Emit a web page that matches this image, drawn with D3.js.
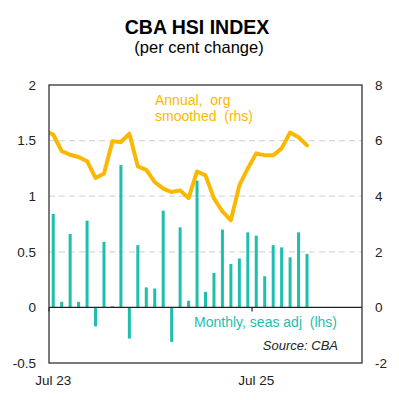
<!DOCTYPE html>
<html>
<head>
<meta charset="utf-8">
<script src="https://d3js.org/d3.v7.min.js"></script>
<style>
  body { margin: 0; background: #fff; }
  svg text { font-family: "Liberation Sans", Arial, sans-serif; }
</style>
</head>
<body>
<svg width="399" height="400"></svg>
<script>
// month labels, Jul 23 .. Jan 26
const months = ["Jul 23","Aug 23","Sep 23","Oct 23","Nov 23","Dec 23",
  "Jan 24","Feb 24","Mar 24","Apr 24","May 24","Jun 24","Jul 24","Aug 24","Sep 24","Oct 24","Nov 24","Dec 24",
  "Jan 25","Feb 25","Mar 25","Apr 25","May 25","Jun 25","Jul 25","Aug 25","Sep 25","Oct 25","Nov 25","Dec 25",
  "Jan 26"];

// monthly, seas adj (lhs)
const monthly = [0.84, 0.05, 0.66, 0.05, 0.78, -0.17, 0.59, 0.01, 1.28, -0.28,
  0.56, 0.18, 0.17, 0.87, -0.31, 0.72, 0.06, 1.14, 0.14, 0.31,
  0.70, 0.39, 0.44, 0.675, 0.645, 0.28, 0.56, 0.54, 0.45, 0.675, 0.48];

// annual, org smoothed (rhs); first value is Jun 23, partly off the left edge
const annualStart = -1;
const annual = [6.35, 6.22, 5.62, 5.49, 5.41, 5.26, 4.66, 4.81, 5.98, 5.95, 6.25,
  5.07, 4.95, 4.51, 4.27, 4.15, 4.21, 3.93, 4.89, 4.75, 3.92,
  3.45, 3.13, 4.39, 5.0, 5.54, 5.47, 5.47, 5.72, 6.29, 6.12, 5.83];

const leftTicks = [-0.5, 0, 0.5, 1, 1.5, 2];
const rightTicks = [-2, 0, 2, 4, 6, 8];
const gridTicks = [0.5, 1, 1.5];
const xLabels = [{i: 0, t: "Jul 23"}, {i: 24, t: "Jul 25"}];

const L = 49, R = 362, T = 85, B = 363;
const orange = "#fbb800", teal = "#1fbfae", frame = "#333";

const svg = d3.select("svg");

const x = d3.scaleLinear().domain([-0.5, 36.5]).range([L, R]);
const yL = d3.scaleLinear().domain([-0.5, 2]).range([B, T]);
const yR = d3.scaleLinear().domain([-2, 8]).range([B, T]);

// title
svg.append("text").attr("x", 197).attr("y", 34).attr("text-anchor", "middle")
  .style("font-size", "19.5px").style("font-weight", "bold").text("CBA HSI INDEX");
svg.append("text").attr("x", 199).attr("y", 53).attr("text-anchor", "middle")
  .style("font-size", "16.5px").text("(per cent change)");

svg.append("defs").append("clipPath").attr("id", "plot")
  .append("rect").attr("x", L).attr("y", T).attr("width", R - L).attr("height", B - T);

// grid
svg.append("g").selectAll("line").data(gridTicks).enter().append("line")
  .attr("x1", L).attr("x2", R)
  .attr("y1", d => yL(d)).attr("y2", d => yL(d))
  .attr("stroke", "#d8d8d8").attr("stroke-width", 1.2).attr("stroke-dasharray", "6,4");

// bars
svg.append("g").selectAll("rect").data(monthly).enter().append("rect")
  .attr("x", (d, i) => x(i) - 1.5)
  .attr("width", 3)
  .attr("y", d => yL(Math.max(0, d)))
  .attr("height", d => Math.abs(yL(d) - yL(0)))
  .attr("fill", teal);

// zero line and x ticks
svg.append("line").attr("x1", L).attr("x2", R).attr("y1", yL(0)).attr("y2", yL(0))
  .attr("stroke", "#222").attr("stroke-width", 1.3);
svg.append("g").selectAll("line").data(xLabels).enter().append("line")
  .attr("x1", d => x(d.i - 0.5)).attr("x2", d => x(d.i - 0.5))
  .attr("y1", yL(0)).attr("y2", yL(0) + 4)
  .attr("stroke", "#222").attr("stroke-width", 1.2);

// annual line
const line = d3.line()
  .x((d, i) => x(i + annualStart))
  .y(d => yR(d));
svg.append("path").datum(annual)
  .attr("clip-path", "url(#plot)")
  .attr("d", line)
  .attr("fill", "none").attr("stroke", orange).attr("stroke-width", 4)
  .attr("stroke-linejoin", "round").attr("stroke-linecap", "round");

// frame
svg.append("rect").attr("x", L).attr("y", T).attr("width", R - L).attr("height", B - T)
  .attr("fill", "none").attr("stroke", frame).attr("stroke-width", 1.3);

// axis labels
svg.append("g").selectAll("text").data(leftTicks).enter().append("text")
  .attr("x", 36).attr("y", d => yL(d)).attr("dy", "0.36em")
  .attr("text-anchor", "end").style("font-size", "13.5px").attr("fill", "#222")
  .text(d => d);
svg.append("g").selectAll("text").data(rightTicks).enter().append("text")
  .attr("x", 375).attr("y", d => yR(d)).attr("dy", "0.36em")
  .attr("text-anchor", "start").style("font-size", "13.5px").attr("fill", "#222")
  .text(d => d);
svg.append("g").selectAll("text").data(xLabels).enter().append("text")
  .attr("x", d => x(d.i)).attr("y", 385)
  .attr("text-anchor", "middle").style("font-size", "13.5px").attr("fill", "#222")
  .text(d => d.t);

// annotations
const ann = svg.append("text").attr("fill", orange).style("font-size", "14px")
  .style("white-space", "pre");
ann.append("tspan").attr("x", 155).attr("y", 105).text("Annual,  org");
ann.append("tspan").attr("x", 155).attr("y", 121).text("smoothed  (rhs)");

svg.append("text").attr("x", 337).attr("y", 327).attr("text-anchor", "end")
  .attr("fill", teal).style("font-size", "14px").style("white-space", "pre")
  .text("Monthly, seas adj  (lhs)");

svg.append("text").attr("x", 338).attr("y", 350).attr("text-anchor", "end")
  .attr("fill", "#222").style("font-size", "13px").style("font-style", "italic")
  .text("Source: CBA");
</script>
</body>
</html>
